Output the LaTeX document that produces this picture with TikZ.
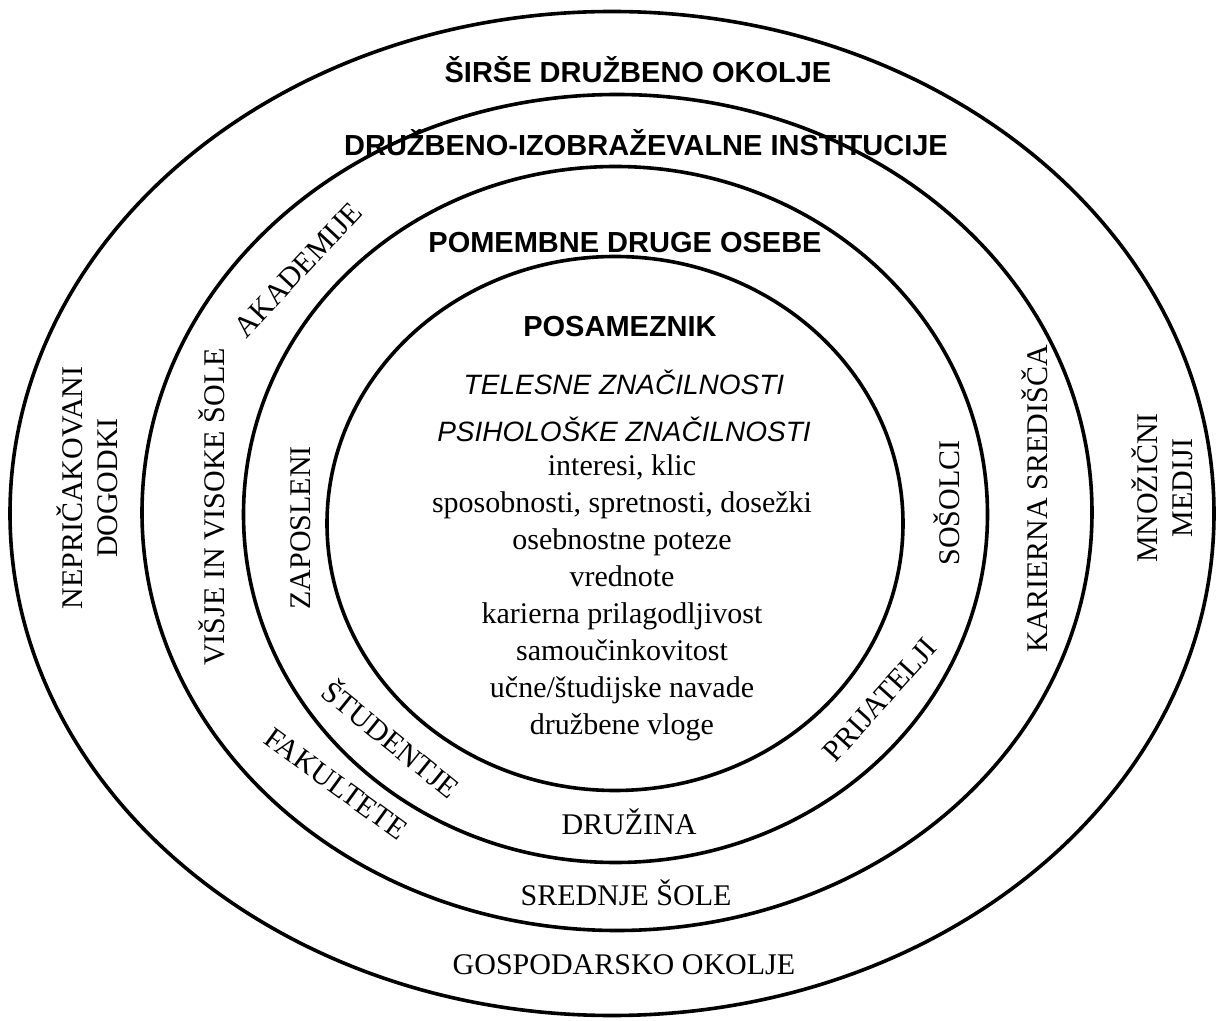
\documentclass[tikz,border=0pt]{standalone}
\usepackage{fontspec}
\setmainfont{Liberation Serif}
\setsansfont{Liberation Sans}
\usepackage{tikz}
\usetikzlibrary{positioning}
\tikzset{
  ring/.style={draw=black, line width=1.8pt},
  head/.style={font=\sffamily\bfseries\fontsize{14.5}{17}\selectfont, inner sep=0pt},
  trait/.style={font=\sffamily\itshape\fontsize{14}{17}\selectfont, inner sep=0pt},
  lbl/.style={font=\fontsize{15}{17.5}\selectfont, inner sep=0pt, align=center}
}

\begin{document}
\begin{tikzpicture}[x=0.5pt, y=-0.5pt,
    % list of personal traits
    items/.style={lbl, font=\fontsize{15}{18.5}\selectfont}
]
\useasboundingbox (0,0) rectangle (1217,1021);

% --- Rings ---
\draw[ring] (612,513.5) ellipse [x radius=301pt, y radius=251pt];
\draw[ring] (617,512.5) ellipse [x radius=237.5pt, y radius=209pt];
\draw[ring] (615.5,514.5) ellipse [x radius=186pt, y radius=174pt];
\draw[ring] (615,523.5) ellipse [x radius=144pt, y radius=133.5pt];

% --- Outer ring: wider environment ---
\node[head] (wide) at (638,70) {ŠIRŠE DRUŽBENO OKOLJE};
\node[lbl, rotate=90] (events) at (87,488) {NEPRIČAKOVANI\\DOGODKI};
\node[lbl, rotate=90] (media) at (1162,488) {MNOŽIČNI\\MEDIJI};
\node[lbl] (economy) at (624,965) {GOSPODARSKO OKOLJE};

% --- Second ring: institutions ---
\node[head] (inst) at (646,143) {DRUŽBENO-IZOBRAŽEVALNE INSTITUCIJE};
\node[lbl, rotate=90] (higher) at (212,507) {VIŠJE IN VISOKE ŠOLE};
\node[lbl, rotate=47] (acad) at (298,270) {AKADEMIJE};
\node[lbl, rotate=-36] (fac) at (336,784) {FAKULTETE};
\node[lbl] (secondary) at (626,893) {SREDNJE ŠOLE};
\node[lbl, rotate=90] (centres) at (1035,499) {KARIERNA SREDIŠČA};

% --- Third ring: significant others ---
\node[head] (others) at (625,243) {POMEMBNE DRUGE OSEBE};
\node[lbl, rotate=90] (employed) at (301,528) {ZAPOSLENI};
\node[lbl, rotate=-39] (students) at (392,738) {ŠTUDENTJE};
\node[lbl] (family) at (629,822) {DRUŽINA};
\node[lbl, rotate=48] (friends) at (880,700) {PRIJATELJI};
\node[lbl, rotate=90] (mates) at (947,503) {SOŠOLCI};

% --- Core: the individual ---
\node[head] (indiv) at (620,327) {POSAMEZNIK};
\node[trait] (body) at (624,382) {TELESNE ZNAČILNOSTI};
\node[trait] (psych) at (624,429) {PSIHOLOŠKE ZNAČILNOSTI};
\node[items] (list) at (622,598) {interesi, klic\\
  sposobnosti, spretnosti, dosežki\\
  osebnostne poteze\\
  vrednote\\
  karierna prilagodljivost\\
  samoučinkovitost\\
  učne/študijske navade\\
  družbene vloge};

\end{tikzpicture}
\end{document}
